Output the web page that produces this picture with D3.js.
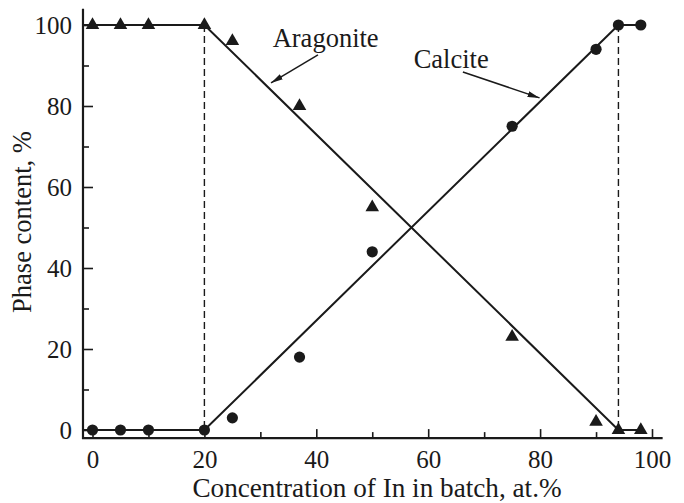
<!DOCTYPE html>
<html>
<head>
<meta charset="utf-8">
<script src="https://cdn.jsdelivr.net/npm/d3@7"></script>
<style>
  html, body { margin: 0; padding: 0; background: #fff; }
  svg { display: block; }
</style>
</head>
<body>
<svg id="chart" width="684" height="503"></svg>
<script>
// Indium concentration in the batch (at.%)
const concentration = [0, 5, 10, 20, 25, 37, 50, 75, 90, 94, 98];
// Phase content (%) for each concentration
const aragonite = [100, 100, 100, 100, 96, 80, 55, 23, 2, 0, 0];
const calcite   = [0, 0, 0, 0, 3, 18, 44, 75, 94, 100, 100];

// Piecewise linear trend lines (knots in data units)
const aragoniteFitX = [-1.7, 20, 94, 98];
const aragoniteFitY = [100, 100, 0, 0];
const calciteFitX   = [-1.7, 20, 94, 98];
const calciteFitY   = [0, 0, 100, 100];

// Phase boundaries shown as dashed verticals
const boundaries = [20, 94];

// Tick values
const xMajorTicks = [0, 20, 40, 60, 80, 100];
const xMinorTicks = [10, 30, 50, 70, 90];
const yMajorTicks = [0, 20, 40, 60, 80, 100];
const yMinorTicks = [10, 30, 50, 70, 90];

// Axis extent in data units
const xExtent = [-1.7, 101.9];
const yExtent = [-2, 104];

const ink = "#1a1a1a";
const serif = "Liberation Serif";
const svg = d3.select("#chart").attr("font-family", serif);

const x = d3.scaleLinear().domain([0, 100]).range([92.5, 652]);
const y = d3.scaleLinear().domain([0, 100]).range([430, 25]);

const x0 = x(xExtent[0]);
const y0 = y(yExtent[0]);

// Bottom axis: major ticks with labels, minor ticks without
const xAxisG = svg.append("g").attr("transform", `translate(0,${y0})`);
xAxisG.call(d3.axisBottom(x).tickValues(xMajorTicks).tickSize(-9).tickPadding(12).tickFormat(d3.format("d")));
xAxisG.append("g").call(d3.axisBottom(x).tickValues(xMinorTicks).tickSize(-6).tickFormat(""));

// Left axis
const yAxisG = svg.append("g").attr("transform", `translate(${x0},0)`);
yAxisG.call(d3.axisLeft(y).tickValues(yMajorTicks).tickSize(-10).tickPadding(11).tickFormat(d3.format("d")));
yAxisG.append("g").call(d3.axisLeft(y).tickValues(yMinorTicks).tickSize(-6).tickFormat(""));

svg.selectAll("g").attr("font-family", serif);
svg.selectAll(".domain").remove();
svg.selectAll(".tick line").attr("stroke", ink).attr("stroke-width", 1.6);
svg.selectAll(".tick text")
  .attr("fill", ink)
  .attr("font-family", serif)
  .style("font-family", serif)
  .style("font-size", "25px");

// Axis lines
svg.append("path")
  .attr("d", `M${x0},${y(yExtent[1])}V${y0}H${x(xExtent[1])}`)
  .attr("fill", "none")
  .attr("stroke", ink)
  .attr("stroke-width", 2.2);

// Dashed phase boundaries
svg.append("g").selectAll("line")
  .data(boundaries)
  .join("line")
  .attr("x1", d => x(d)).attr("x2", d => x(d))
  .attr("y1", y(100)).attr("y2", y(0))
  .attr("stroke", ink)
  .attr("stroke-width", 1.4)
  .attr("stroke-dasharray", "7,4");

// Trend lines
const line = d3.line().x(d => x(d[0])).y(d => y(d[1]));
const aragoniteFit = d3.zip(aragoniteFitX, aragoniteFitY);
const calciteFit = d3.zip(calciteFitX, calciteFitY);
[aragoniteFit, calciteFit].forEach(pts => {
  svg.append("path")
    .attr("d", line(pts))
    .attr("fill", "none")
    .attr("stroke", ink)
    .attr("stroke-width", 2);
});

// Measured points
const aragonitePts = d3.zip(concentration, aragonite);
const calcitePts = d3.zip(concentration, calcite);

svg.append("g").selectAll("path")
  .data(aragonitePts)
  .join("path")
  .attr("transform", d => `translate(${x(d[0])},${y(d[1])})`)
  .attr("d", d3.symbol(d3.symbolTriangle, 80))
  .attr("fill", ink);

svg.append("g").selectAll("circle")
  .data(calcitePts)
  .join("circle")
  .attr("cx", d => x(d[0]))
  .attr("cy", d => y(d[1]))
  .attr("r", 5.6)
  .attr("fill", ink);

// Arrowhead marker
svg.append("defs").append("marker")
  .attr("id", "arrow")
  .attr("viewBox", "0 0 12 6")
  .attr("refX", 12).attr("refY", 3)
  .attr("markerWidth", 12).attr("markerHeight", 6)
  .attr("markerUnits", "userSpaceOnUse")
  .attr("orient", "auto")
  .append("path")
  .attr("d", "M0,0L12,3L0,6Z")
  .attr("fill", ink);

// Series labels with pointer arrows (positions in data units)
const labels = [
  { text: "Aragonite", tx: 32.2, ty: 94.6, from: [40.3, 92.6], to: [31.9, 85.7] },
  { text: "Calcite",   tx: 57.4, ty: 89.4, from: [66.2, 88.4], to: [79.9, 82.0] }
];
labels.forEach(l => {
  svg.append("text")
    .attr("x", x(l.tx)).attr("y", y(l.ty))
    .attr("fill", ink)
    .style("font-family", serif)
    .style("font-size", "26.5px")
    .text(l.text);
  svg.append("line")
    .attr("x1", x(l.from[0])).attr("y1", y(l.from[1]))
    .attr("x2", x(l.to[0])).attr("y2", y(l.to[1]))
    .attr("stroke", ink)
    .attr("stroke-width", 1.5)
    .attr("marker-end", "url(#arrow)");
});

// Axis titles
svg.append("text")
  .attr("x", 377).attr("y", 497)
  .attr("text-anchor", "middle")
  .attr("fill", ink)
  .style("font-family", serif)
  .style("font-size", "27.2px")
  .text("Concentration of In in batch, at.%");

svg.append("text")
  .attr("transform", "translate(31,222) rotate(-90)")
  .attr("text-anchor", "middle")
  .attr("fill", ink)
  .style("font-family", serif)
  .style("font-size", "26.5px")
  .text("Phase content, %");
</script>
</body>
</html>
